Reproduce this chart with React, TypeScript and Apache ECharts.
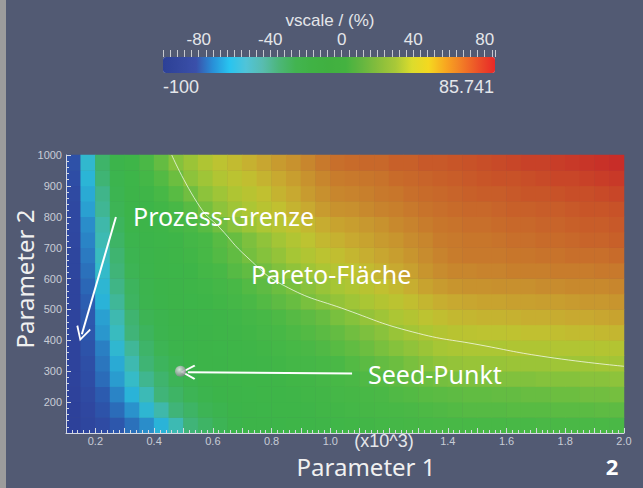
import React, { useEffect, useRef } from "react";
import * as echarts from "echarts";

// Parameter 1 (x10^3) cell centres and Parameter 2 cell centres
const xCenters = [0.125, 0.175, 0.225, 0.275, 0.325, 0.375, 0.425, 0.475, 0.525, 0.575, 0.625, 0.675, 0.725, 0.775, 0.825, 0.875, 0.925, 0.975, 1.025, 1.075, 1.125, 1.175, 1.225, 1.275, 1.325, 1.375, 1.425, 1.475, 1.525, 1.575, 1.625, 1.675, 1.725, 1.775, 1.825, 1.875, 1.925, 1.975];
const yCenters = [125, 175, 225, 275, 325, 375, 425, 475, 525, 575, 625, 675, 725, 775, 825, 875, 925, 975];

// vscale (%) values, one row per Parameter 2 cell
const row125 = [-98, -94, -90, -84, -77, -71, -63, -48, -34, -29, -24, -18, -14, -12, -11, -9, -7, -6, -5, -4, -3, -2, -1, 0, 1, 2, 2, 2, 2, 2, 2, 2, 3, 3, 3, 3, 3, 3];
const row175 = [-98, -93, -86, -78, -70, -60, -45, -34, -29, -24, -20, -15, -12, -11, -9, -7, -6, -4, -3, -2, 0, 1, 2, 3, 4, 5, 6, 7, 7, 7, 8, 8, 8, 9, 9, 9, 10, 10];
const row225 = [-97, -91, -82, -73, -63, -49, -34, -29, -24, -19, -16, -13, -11, -9, -7, -6, -4, -3, -1, 0, 2, 3, 5, 6, 8, 9, 10, 11, 11, 12, 12, 13, 13, 14, 14, 15, 15, 16];
const row275 = [-96, -89, -78, -68, -55, -39, -31, -25, -20, -17, -14, -11, -9, -8, -6, -4, -3, -1, 1, 3, 5, 7, 10, 12, 14, 16, 17, 18, 18, 19, 19, 19, 20, 20, 20, 21, 21, 22];
const row325 = [-96, -88, -76, -65, -47, -33, -27, -21, -17, -14, -12, -9, -7, -6, -4, -2, -1, 1, 3, 6, 9, 12, 14, 17, 20, 23, 24, 25, 25, 25, 26, 26, 26, 27, 27, 27, 28, 28];
const row375 = [-96, -86, -74, -59, -41, -30, -23, -18, -16, -13, -11, -8, -6, -4, -2, 1, 3, 5, 8, 11, 14, 17, 20, 23, 26, 29, 30, 31, 31, 31, 32, 32, 32, 33, 33, 33, 34, 34];
const row425 = [-95, -84, -69, -52, -34, -27, -20, -17, -15, -12, -9, -6, -4, -1, 1, 4, 6, 9, 12, 15, 18, 21, 25, 28, 31, 34, 36, 37, 38, 38, 39, 40, 40, 41, 42, 42, 43, 44];
const row475 = [-95, -83, -67, -47, -32, -23, -19, -16, -14, -11, -8, -5, -2, 1, 4, 7, 10, 13, 17, 20, 24, 27, 31, 34, 38, 41, 43, 44, 45, 45, 46, 47, 47, 48, 49, 49, 50, 51];
const row525 = [-95, -81, -63, -41, -28, -20, -17, -14, -11, -8, -4, -1, 3, 6, 10, 13, 17, 20, 24, 27, 30, 34, 37, 41, 44, 47, 49, 50, 51, 51, 52, 52, 53, 53, 54, 55, 55, 56];
const row575 = [-95, -79, -60, -37, -27, -19, -16, -13, -9, -5, -2, 2, 6, 10, 14, 17, 21, 25, 29, 32, 36, 40, 43, 47, 51, 54, 56, 57, 57, 58, 58, 58, 59, 59, 60, 60, 60, 61];
const row625 = [-94, -77, -56, -34, -24, -18, -14, -11, -7, -2, 2, 7, 11, 15, 19, 23, 27, 31, 35, 38, 42, 45, 49, 52, 56, 59, 61, 61, 62, 62, 63, 63, 63, 64, 64, 64, 65, 65];
const row675 = [-94, -75, -52, -32, -21, -17, -13, -9, -4, 1, 6, 11, 16, 20, 24, 29, 33, 37, 41, 44, 47, 50, 53, 56, 59, 62, 64, 65, 65, 65, 66, 66, 67, 67, 68, 68, 68, 69];
const row725 = [-93, -73, -48, -29, -19, -15, -11, -7, -2, 2, 8, 13, 18, 23, 28, 33, 38, 43, 46, 49, 51, 54, 56, 59, 61, 64, 65, 66, 66, 67, 68, 68, 69, 69, 70, 71, 71, 72];
const row775 = [-92, -71, -45, -27, -17, -12, -7, -2, 3, 8, 15, 21, 26, 31, 35, 39, 43, 48, 51, 53, 55, 57, 60, 62, 64, 66, 67, 68, 68, 69, 70, 70, 71, 71, 72, 73, 73, 74];
const row825 = [-92, -67, -40, -24, -16, -10, -4, 2, 8, 16, 22, 27, 31, 36, 40, 45, 49, 54, 57, 58, 60, 62, 63, 65, 67, 68, 69, 70, 70, 71, 72, 72, 73, 73, 74, 75, 75, 76];
const row875 = [-91, -65, -38, -21, -14, -6, 1, 8, 15, 22, 27, 32, 36, 40, 45, 49, 54, 58, 61, 62, 63, 65, 66, 68, 69, 70, 71, 72, 73, 73, 74, 75, 75, 76, 77, 77, 78, 79];
const row925 = [-89, -62, -33, -19, -11, -2, 6, 14, 22, 27, 33, 37, 41, 45, 49, 53, 57, 61, 64, 65, 66, 67, 69, 70, 71, 72, 73, 74, 75, 76, 76, 77, 78, 79, 79, 80, 81, 82];
const row975 = [-87, -58, -30, -17, -7, 3, 12, 20, 26, 32, 38, 42, 46, 50, 54, 57, 61, 65, 68, 69, 70, 70, 72, 72, 74, 74, 75, 76, 77, 78, 79, 80, 80, 81, 82, 83, 84, 85];
const rows = [row125, row175, row225, row275, row325, row375, row425, row475, row525, row575, row625, row675, row725, row775, row825, row875, row925, row975];

// Pareto front (white curve)
const paretoX = [0.46, 0.556, 0.624, 0.716, 0.839, 1.057, 1.281, 1.51, 1.738, 2.0];
const paretoY = [1000, 832, 764, 670, 579, 498, 427, 385, 346, 316];

const seedPoint = [0.49, 300];
const arrowProzess = [[0.27, 799], [0.154, 420]];
const arrowSeed = [[1.074, 293], [0.515, 297]];

const vMin = -100;
const vMax = 85.741;
const colorbarTicks = [-80, -40, 0, 40, 80];

const barColors = ["#2c4096", "#34489f", "#3a50aa", "#2890d8", "#28c4f0", "#50c4d8", "#58bcb0", "#4cb678", "#42b450", "#40b244", "#40b040", "#44b240", "#64b640", "#88be3c", "#a8c838", "#dcdc2c", "#f4d820", "#f8a820", "#f27c26", "#ec5028", "#e82828"];
const fieldColors = ["#2d3e98", "#2f4aa2", "#2c5cb0", "#2a88c8", "#2ab4d8", "#38bcc4", "#40b8a8", "#40b47c", "#3db458", "#3cb44a", "#3eb548", "#48b846", "#62bc42", "#88c23c", "#aac634", "#c0c230", "#c8aa30", "#c8902e", "#c8722b", "#c85028", "#c82a28"];

const arrowHead = "path://M10,0 L20,17 L18,18.6 L10,4.6 L2,18.6 L0,17 Z";

export default function App() {
  const ref = useRef<HTMLDivElement>(null);
  useEffect(() => {
    if (!ref.current) return;
    const chart = echarts.init(ref.current, undefined, { renderer: "svg" });
    const heat: number[][] = [];
    rows.forEach((r, yi) => r.forEach((v, xi) => heat.push([xi, yi, v])));
    const txt = "#e4e6ea";
    const tick = "#d4d8e0";
    const option: any = {
      animation: false,
      backgroundColor: "#525a73",
      grid: [
        { left: 66, right: 19, top: 155, bottom: 55 },
        { left: 66, right: 19, top: 155, bottom: 55 },
        { left: 163, top: 57, width: 332, height: 16 },
      ],
      xAxis: [
        { gridIndex: 0, type: "category", data: xCenters, show: false },
        {
          gridIndex: 1, type: "value", min: 0.1, max: 2.0, interval: 0.1, z: 10,
          axisLine: { show: true, lineStyle: { color: tick, width: 1 } },
          axisTick: { show: true, inside: true, length: 5, lineStyle: { color: tick } },
          minorTick: { show: true, splitNumber: 5, length: 3, lineStyle: { color: tick } },
          splitLine: { show: false },
          axisLabel: {
            color: "#c8ccd6", fontSize: 11, fontFamily: "Liberation Sans", margin: 2,
            formatter: (v: number) => {
              const r = Math.round(v * 10);
              return r % 2 === 0 && r !== 12 ? (r / 10).toFixed(1) : "";
            },
          },
        },
        {
          gridIndex: 2, type: "value", position: "top", min: vMin, max: vMax, interval: 20, z: 10,
          axisLine: { show: true, onZero: false, lineStyle: { color: "rgba(0,0,0,0)" } },
          axisTick: { show: true, inside: false, length: 7, lineStyle: { color: "#c8cad0", width: 1 } },
          minorTick: { show: true, splitNumber: 5, length: 7, lineStyle: { color: "#c8cad0", width: 1 } },
          splitLine: { show: false },
          axisLabel: {
            color: txt, fontSize: 17, fontFamily: "Liberation Sans", margin: 9,
            formatter: (v: number) => (colorbarTicks.includes(Math.round(v)) && Math.abs(v - Math.round(v)) < 1e-6 ? String(Math.round(v)) : ""),
          },
        },
      ],
      yAxis: [
        { gridIndex: 0, type: "category", data: yCenters, show: false },
        {
          gridIndex: 1, type: "value", min: 100, max: 1000, interval: 100, z: 10,
          axisLine: { show: true, lineStyle: { color: tick, width: 1 } },
          axisTick: { show: true, inside: true, length: 5, lineStyle: { color: tick } },
          minorTick: { show: true, splitNumber: 5, length: 3, lineStyle: { color: tick } },
          splitLine: { show: false },
          axisLabel: {
            color: "#c8ccd6", fontSize: 11, fontFamily: "Liberation Sans", margin: 4,
            formatter: (v: number) => (v === 100 ? "" : String(v)),
          },
        },
        { gridIndex: 2, type: "value", show: false, min: 0, max: 1 },
      ],
      visualMap: [
        {
          type: "continuous", show: true, seriesIndex: 4, min: vMin, max: vMax,
          orient: "horizontal", left: 163, top: 57, padding: 0,
          itemWidth: 16, itemHeight: 332, calculable: false, text: null,
          inRange: { color: barColors },
        },
        {
          type: "continuous", show: false, seriesIndex: 0, min: vMin, max: vMax,
          inRange: { color: fieldColors },
        },
      ],
      series: [
        {
          type: "heatmap", xAxisIndex: 0, yAxisIndex: 0, data: heat,
          itemStyle: { borderWidth: 0 }, emphasis: { disabled: true },
        },
        {
          type: "line", xAxisIndex: 1, yAxisIndex: 1, smooth: true, symbol: "none", z: 5,
          data: paretoX.map((x, i) => [x, paretoY[i]]),
          lineStyle: { color: "rgba(255,255,255,0.7)", width: 1 },
        },
        {
          type: "lines", coordinateSystem: "cartesian2d", xAxisIndex: 1, yAxisIndex: 1, z: 6,
          symbol: ["none", arrowHead], symbolSize: [0, 15],
          lineStyle: { color: "#ffffff", width: 2, opacity: 1 },
          itemStyle: { color: "#ffffff" },
          data: [{ coords: arrowProzess }, { coords: arrowSeed }],
        },
        {
          type: "scatter", xAxisIndex: 1, yAxisIndex: 1, symbolSize: 11, z: 7,
          data: [seedPoint],
          itemStyle: {
            color: {
              type: "radial", x: 0.4, y: 0.35, r: 0.7,
              colorStops: [{ offset: 0, color: "#f4f4f6" }, { offset: 1, color: "#7a7a80" }],
            },
          },
        },
        { type: "scatter", xAxisIndex: 2, yAxisIndex: 2, data: [] },
      ],
      graphic: [
        { type: "rect", shape: { x: 0, y: 0, width: 6, height: 488 }, style: { fill: "#9c9c9c" } },
        { type: "text", x: 330, y: 20, style: { text: "vscale / (%)", fontSize: 17, fontFamily: "Liberation Sans", fill: txt, align: "center", verticalAlign: "middle" } },
        { type: "text", x: 163, y: 87, style: { text: "-100", fontSize: 18, fontFamily: "Liberation Sans", fill: txt, align: "left", verticalAlign: "middle" } },
        { type: "text", x: 494, y: 87, style: { text: "85.741", fontSize: 18, fontFamily: "Liberation Sans", fill: txt, align: "right", verticalAlign: "middle" } },
        { type: "text", x: 384, y: 441, style: { text: "(x10^3)", fontSize: 18, fontFamily: "Liberation Sans", fill: txt, align: "center", verticalAlign: "middle" } },
        { type: "text", x: 366, y: 466, style: { text: "Parameter 1", fontSize: 24, fontFamily: "Noto Sans", fill: "#f0f0f0", align: "center", verticalAlign: "middle" } },
        { type: "text", x: 24, y: 279, rotation: Math.PI / 2, style: { text: "Parameter 2", fontSize: 24, fontFamily: "Noto Sans", fill: "#f0f0f0", align: "center", verticalAlign: "middle" } },
        { type: "text", x: 612, y: 466, style: { text: "2", fontSize: 22, fontWeight: "bold", fontFamily: "Noto Sans", fill: "#ffffff", align: "center", verticalAlign: "middle" } },
        { type: "text", x: 133, y: 216, z: 100, style: { text: "Prozess-Grenze", fontSize: 25, fontFamily: "Noto Sans", fill: "#ffffff", align: "left", verticalAlign: "middle" } },
        { type: "text", x: 251, y: 274, z: 100, style: { text: "Pareto-Fläche", fontSize: 25, fontFamily: "Noto Sans", fill: "#ffffff", align: "left", verticalAlign: "middle" } },
        { type: "text", x: 368, y: 374, z: 100, style: { text: "Seed-Punkt", fontSize: 25, fontFamily: "Noto Sans", fill: "#ffffff", align: "left", verticalAlign: "middle" } },
      ],
    };
    chart.setOption(option);
    return () => chart.dispose();
  }, []);
  return <div ref={ref} style={{ position: "absolute", left: 0, top: 0, width: 643, height: 488 }} />;
}
